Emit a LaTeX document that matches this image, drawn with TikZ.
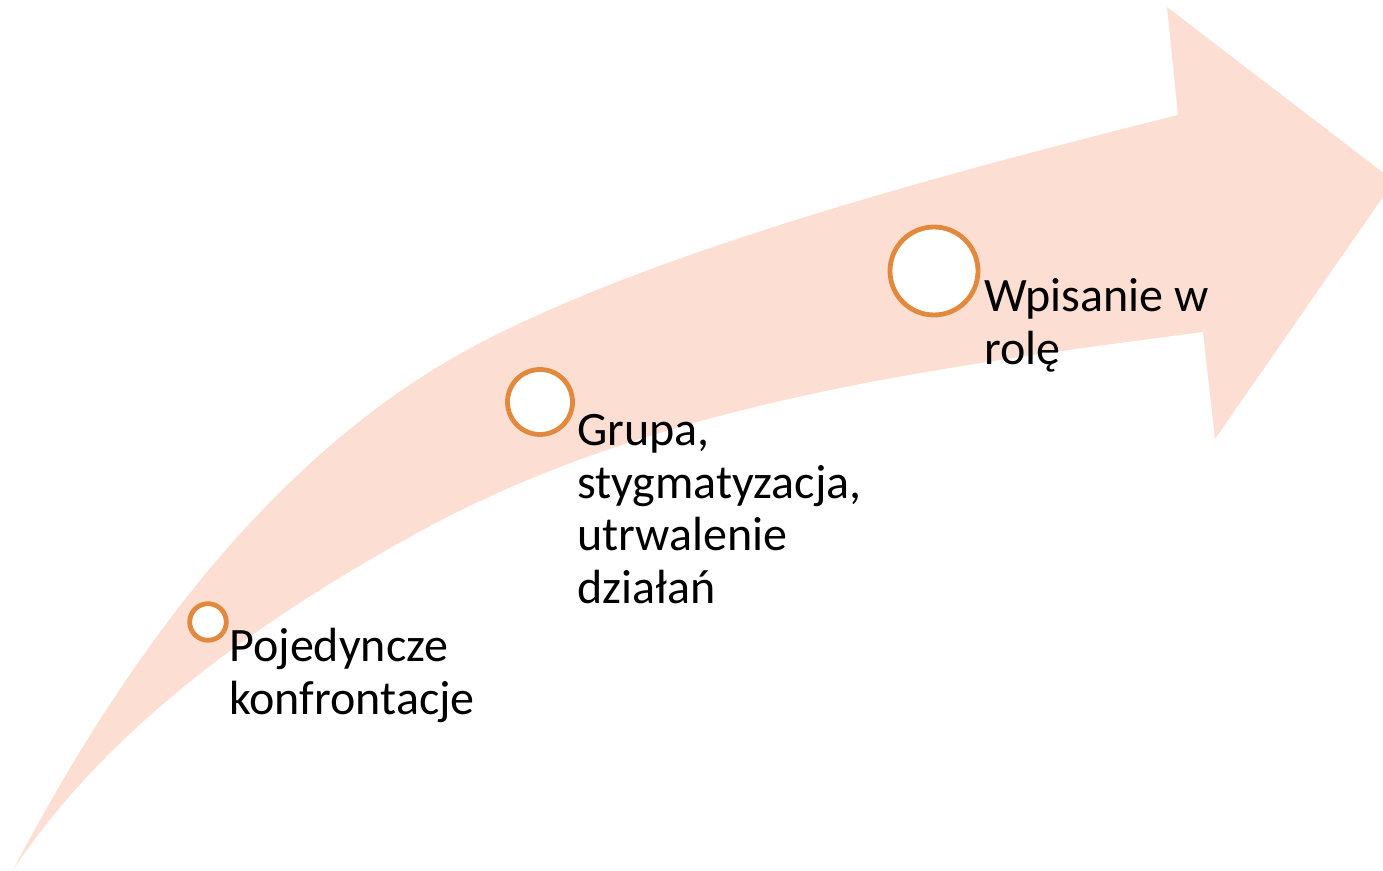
\documentclass[tikz,border=0pt]{standalone}
\usepackage{fontspec}
\setmainfont{Carlito}
\definecolor{bandpink}{RGB}{252,222,210}
\definecolor{stageorange}{RGB}{226,137,62}
\begin{document}
\begin{tikzpicture}[x=0.5pt, y=-0.5pt,
        stage/.style={draw=stageorange, fill=white, circle, line width=2.4pt, inner sep=0pt},
        stagetext/.style={anchor=base west, align=left, inner sep=0pt, font=\fontsize{24pt}{26.5pt}\selectfont}]
        \useasboundingbox (0,0) rectangle (1383,871);

        \fill[bandpink] (13,870) .. controls (122.5,662) and (271.6,451.6) .. (480,343)
            .. controls (657.4,250.6) and (940.3,174.5) .. (1178,115)
            -- (1167,7) -- (1394,181) -- (1215,439) -- (1203,332)
            .. controls (935.4,367.1) and (653.5,403) .. (417,533)
            .. controls (263.7,617.4) and (110,724.4) .. (13,870) -- cycle;

        \draw (208,622) node [stage, minimum size=18.3pt] (s1) {};
        \draw (540,402) node [stage, minimum size=32.5pt] (s2) {};
        \draw (934,271) node [stage, minimum size=44pt] (s3) {};

        % base anchor sits on the last line
        \draw (229,715) node [stagetext] (t1) {Pojedyncze\\konfrontacje};
        \draw (577,604) node [stagetext] (t2) {Grupa,\\stygmatyzacja,\\utrwalenie\\działań};
        \draw (984,365) node [stagetext] (t3) {Wpisanie w\\rolę};
    \end{tikzpicture}
\end{document}
